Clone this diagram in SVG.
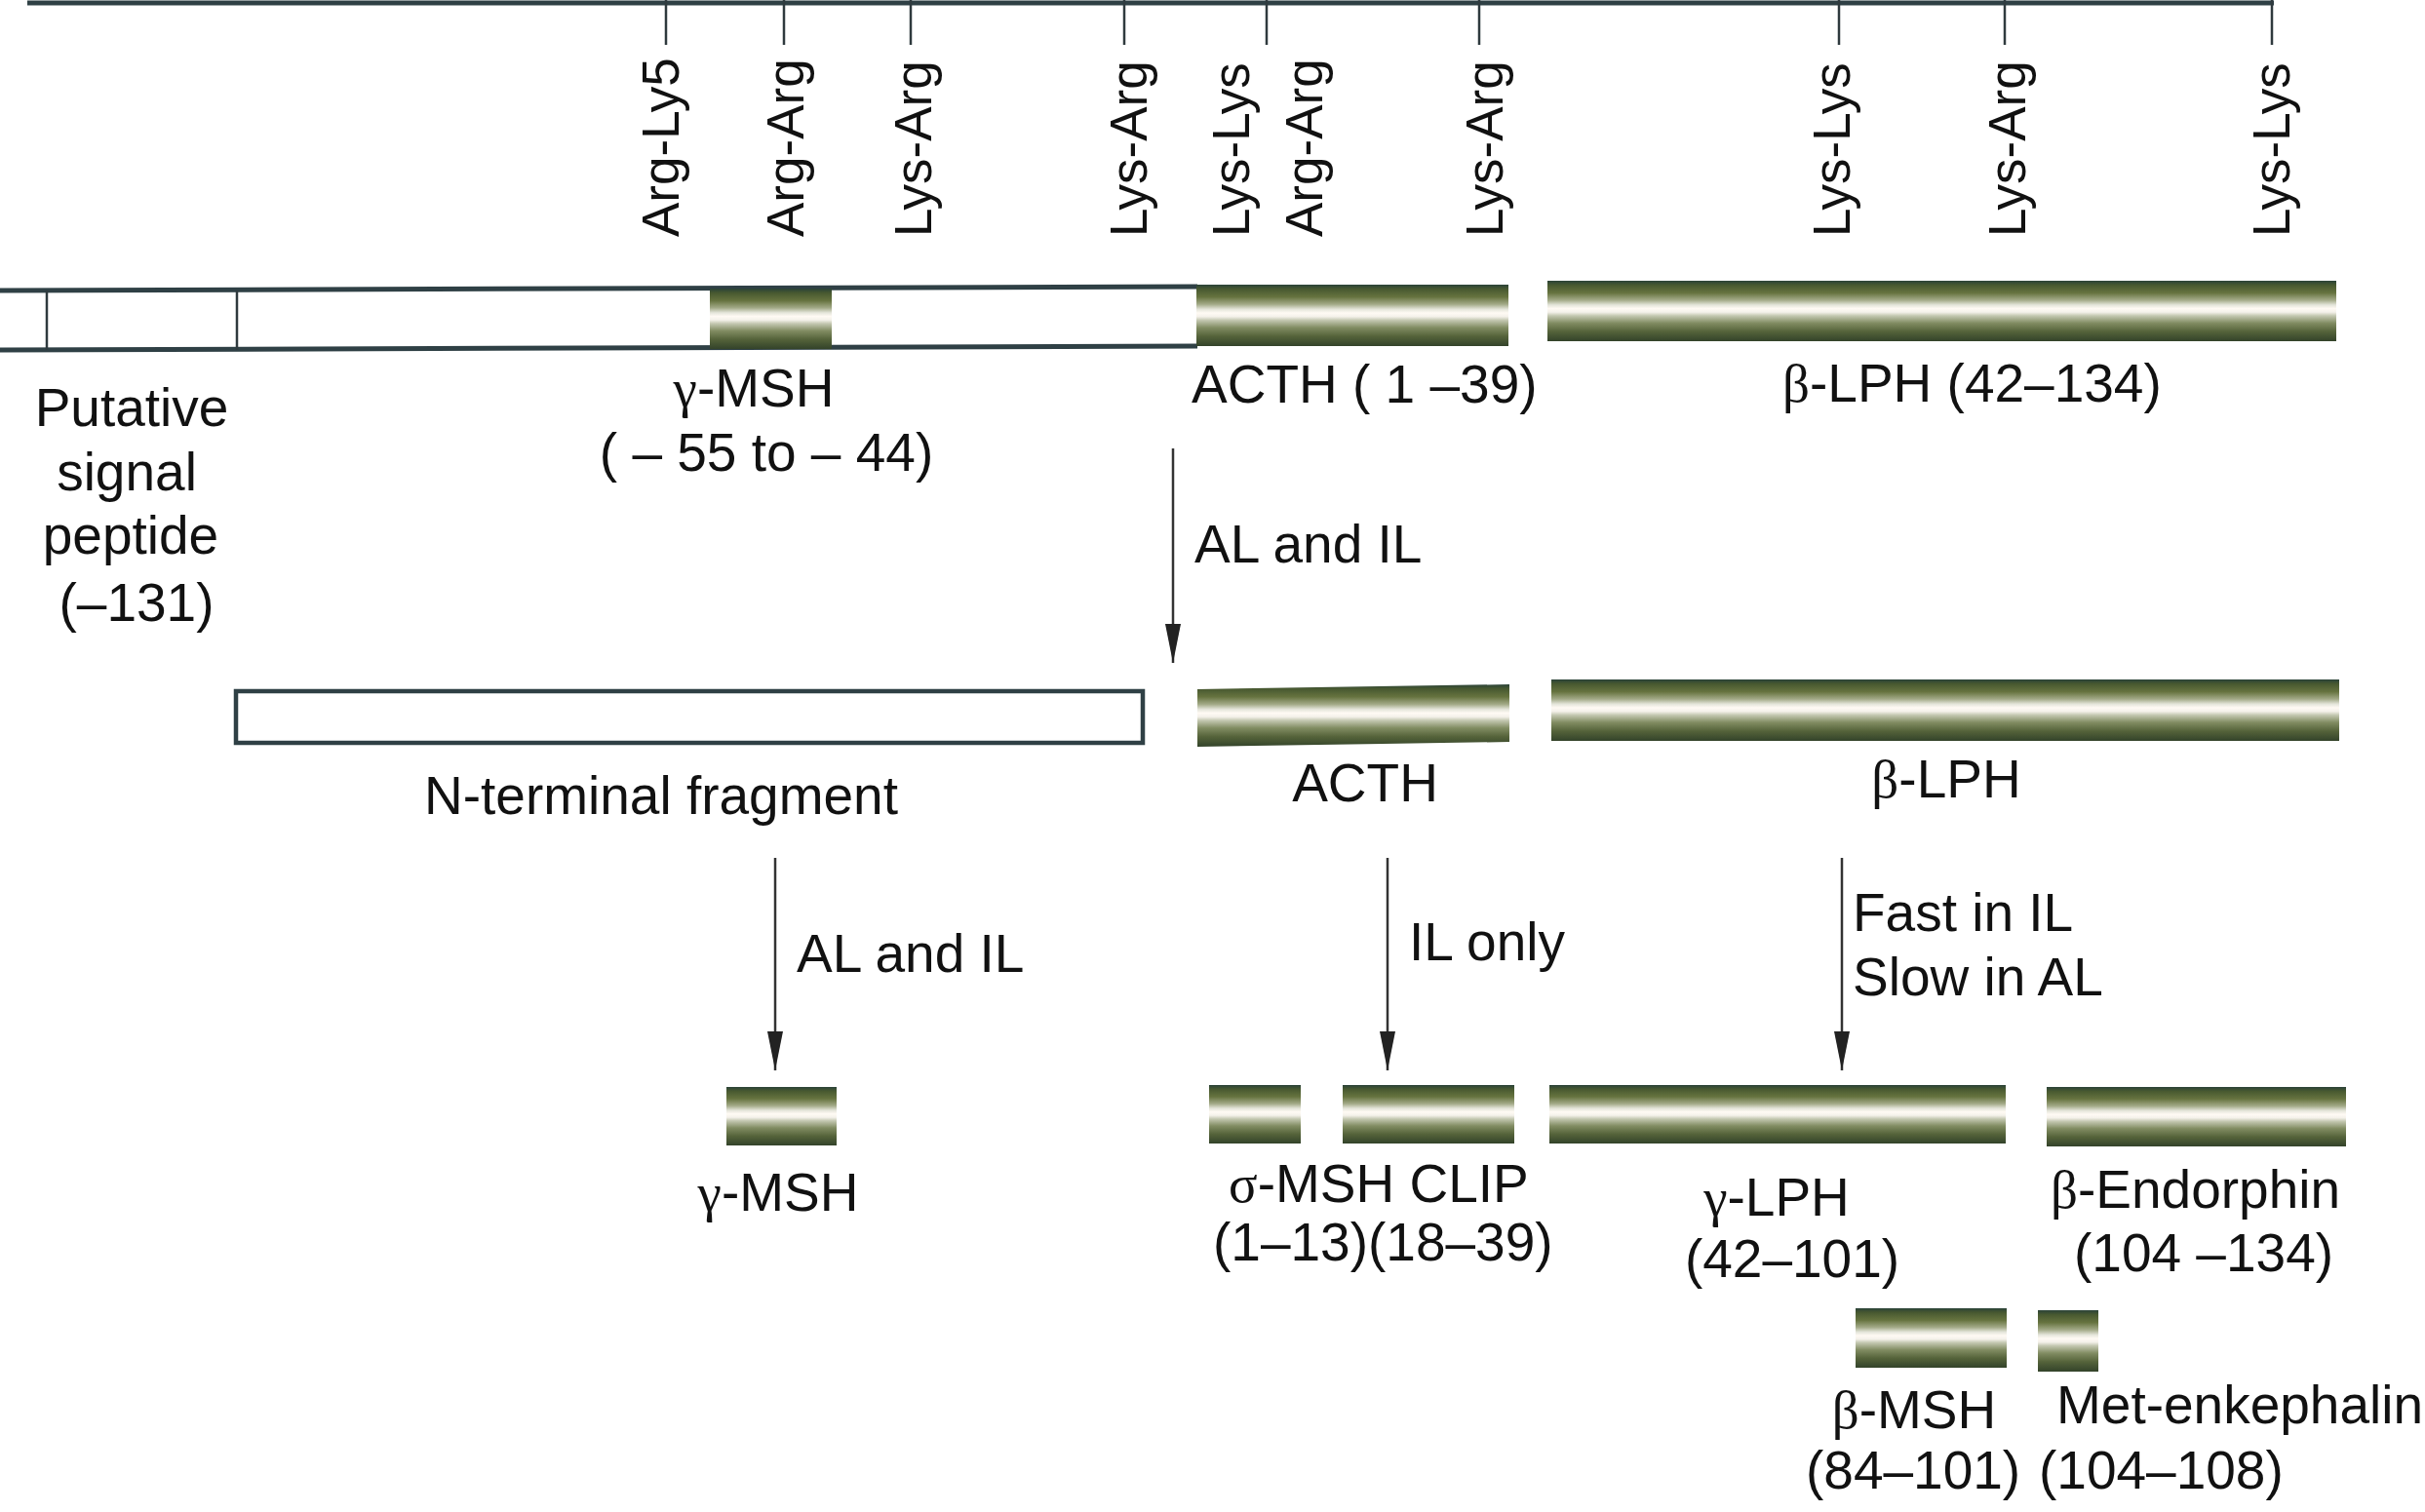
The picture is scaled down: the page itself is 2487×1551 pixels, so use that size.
<svg xmlns="http://www.w3.org/2000/svg" width="2487" height="1551" viewBox="0 0 2487 1551">
<defs>
<linearGradient id="g" x1="0" y1="0" x2="0" y2="1">
<stop offset="0" stop-color="#2a4238"/>
<stop offset="0.07" stop-color="#475830"/>
<stop offset="0.2" stop-color="#66733f"/>
<stop offset="0.32" stop-color="#a3aa88"/>
<stop offset="0.4" stop-color="#e4e5da"/>
<stop offset="0.46" stop-color="#fffaf4"/>
<stop offset="0.52" stop-color="#f4f1ea"/>
<stop offset="0.58" stop-color="#c3c7b0"/>
<stop offset="0.7" stop-color="#818c62"/>
<stop offset="0.84" stop-color="#55633a"/>
<stop offset="1" stop-color="#33432a"/>
</linearGradient>
<marker id="ah" viewBox="0 0 40 16" refX="40" refY="8" markerWidth="40" markerHeight="16" markerUnits="userSpaceOnUse" orient="auto">
<path d="M0,0 L40,8 L0,16 z" fill="#222"/>
</marker>
<style>
text{font-family:"Liberation Sans",Arial,sans-serif;font-size:55px;fill:#111}
.v{font-size:53px}
.gk{font-family:"Liberation Serif","Times New Roman",serif}
.bar{fill:url(#g)}
.ol{fill:none;stroke:#2f4045;stroke-width:5}
.thin{stroke:#2f3a3e;stroke-width:2.5;fill:none}
.arr{stroke:#333;stroke-width:2.5;fill:none;marker-end:url(#ah)}
</style>
</defs>

<g id="cleavage-sites">
<line class="ol" x1="28" y1="3" x2="2332" y2="3"/>
<g class="thin">
<line x1="683" y1="0" x2="683" y2="46"/>
<line x1="804" y1="0" x2="804" y2="46"/>
<line x1="934" y1="0" x2="934" y2="46"/>
<line x1="1153" y1="0" x2="1153" y2="46"/>
<line x1="1299" y1="0" x2="1299" y2="46"/>
<line x1="1517" y1="0" x2="1517" y2="46"/>
<line x1="1886" y1="0" x2="1886" y2="46"/>
<line x1="2056" y1="0" x2="2056" y2="46"/>
<line x1="2330" y1="0" x2="2330" y2="46"/>
</g>
<text class="v" transform="translate(696,243) rotate(-90)">Arg-Ly5</text>
<text class="v" transform="translate(824,243) rotate(-90)">Arg-Arg</text>
<text class="v" transform="translate(955,243) rotate(-90)">Lys-Arg</text>
<text class="v" transform="translate(1176,243) rotate(-90)">Lys-Arg</text>
<text class="v" transform="translate(1281,243) rotate(-90)">Lys-Lys</text>
<text class="v" transform="translate(1356,243) rotate(-90)">Arg-Arg</text>
<text class="v" transform="translate(1541,243) rotate(-90)">Lys-Arg</text>
<text class="v" transform="translate(1897,243) rotate(-90)">Lys-Lys</text>
<text class="v" transform="translate(2077,243) rotate(-90)">Lys-Arg</text>
<text class="v" transform="translate(2348,243) rotate(-90)">Lys-Lys</text>
</g>

<g id="pomc">
<line class="ol" x1="0" y1="298" x2="1228" y2="294"/>
<line class="ol" x1="0" y1="359" x2="1228" y2="355"/>
<line class="thin" x1="48" y1="298" x2="48" y2="359"/>
<line class="thin" x1="243" y1="298" x2="243" y2="359"/>
<rect class="bar" x="728" y="296" width="125" height="62"/>
<rect class="bar" x="1227" y="292" width="320" height="63"/>
<rect class="bar" x="1587" y="288" width="809" height="62"/>
<text x="135" y="437" text-anchor="middle">Putative</text>
<text x="130" y="503" text-anchor="middle">signal</text>
<text x="134" y="568" text-anchor="middle">peptide</text>
<text x="140" y="637" text-anchor="middle">(–131)</text>
<text x="773" y="417" text-anchor="middle"><tspan class="gk">γ</tspan>-MSH</text>
<text x="786" y="483" text-anchor="middle">( – 55 to – 44)</text>
<text x="1222" y="413">ACTH ( 1 –39)</text>
<text x="1828" y="412"><tspan class="gk">β</tspan>-LPH (42–134)</text>
</g>

<g id="n-terminal-fragment">
<rect x="242" y="709" width="930" height="53" fill="#fff" stroke="#2f4045" stroke-width="4.5"/>
<text x="678" y="835" text-anchor="middle">N-terminal fragment</text>
</g>
<g id="acth">
<polygon class="bar" points="1228,707 1548,702 1548,761 1228,766"/>
<text x="1400" y="822" text-anchor="middle">ACTH</text>
</g>
<g id="b-lph">
<rect class="bar" x="1591" y="697" width="808" height="63"/>
<text x="1996" y="818" text-anchor="middle"><tspan class="gk">β</tspan>-LPH</text>
</g>

<g id="g-msh">
<rect class="bar" x="745" y="1115" width="113" height="60"/>
<text x="798" y="1242" text-anchor="middle"><tspan class="gk">γ</tspan>-MSH</text>
</g>
<g id="msh-clip">
<rect class="bar" x="1240" y="1113" width="94" height="60"/>
<rect class="bar" x="1377" y="1113" width="176" height="60"/>
<text x="1260" y="1233"><tspan class="gk">σ</tspan>-MSH CLIP</text>
<text x="1244" y="1293">(1–13)(18–39)</text>
</g>
<g id="g-lph">
<rect class="bar" x="1589" y="1113" width="468" height="60"/>
<text x="1822" y="1247" text-anchor="middle"><tspan class="gk">γ</tspan>-LPH</text>
<text x="1838" y="1310" text-anchor="middle">(42–101)</text>
</g>
<g id="b-endorphin">
<rect class="bar" x="2099" y="1115" width="307" height="61"/>
<text x="2103" y="1239"><tspan class="gk">β</tspan>-Endorphin</text>
<text x="2127" y="1304">(104 –134)</text>
</g>
<g id="b-msh">
<rect class="bar" x="1903" y="1342" width="155" height="61"/>
<text x="1963" y="1465" text-anchor="middle"><tspan class="gk">β</tspan>-MSH</text>
<text x="1852" y="1527">(84–101)</text>
</g>
<g id="met-enkephalin">
<rect class="bar" x="2090" y="1344" width="62" height="63"/>
<text x="2109" y="1460">Met-enkephalin</text>
<text x="2091" y="1527">(104–108)</text>
</g>

<g id="connectors">
<line class="arr" x1="1203" y1="460" x2="1203" y2="680"/>
<line class="arr" x1="795" y1="880" x2="795" y2="1098"/>
<line class="arr" x1="1423" y1="880" x2="1423" y2="1098"/>
<line class="arr" x1="1889" y1="880" x2="1889" y2="1098"/>
<text x="1225" y="577">AL and IL</text>
<text x="817" y="997">AL and IL</text>
<text x="1445" y="985">IL only</text>
<text x="1900" y="955">Fast in IL</text>
<text x="1900" y="1021">Slow in AL</text>
</g>
</svg>
